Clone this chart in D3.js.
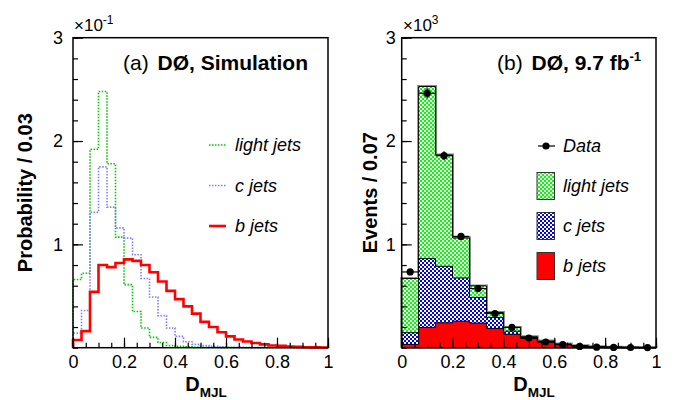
<!DOCTYPE html>
<html><head><meta charset="utf-8">
<script src="https://cdn.jsdelivr.net/npm/d3@7"></script>
<style>body{margin:0;background:#fff}svg{display:block;font-family:"Liberation Sans",Arial,Helvetica,sans-serif}</style>
</head><body><svg id="c" width="675" height="400"></svg>
<script>
// ---- Left panel: normalized distributions (units of 10^-1), 30 bins on [0,1]
const leftBins = 30;
const lightProb = [0.66,0.72,1.92,2.48,1.78,1.07,0.61,0.35,0.19,0.10,0.05,0.022,0.013,0.008,0.005,0.003,0.002,0.001,0.001,0,0,0,0,0,0,0,0,0,0,0];
const cProb = [0.14,0.36,1.31,1.75,1.36,1.16,1.06,0.90,0.67,0.49,0.31,0.19,0.11,0.058,0.032,0.02,0.013,0.008,0.005,0.003,0.002,0.001,0,0,0,0,0,0,0,0];
const bProb = [0.074,0.16,0.54,0.80,0.78,0.82,0.855,0.84,0.80,0.73,0.64,0.55,0.47,0.40,0.33,0.25,0.20,0.15,0.11,0.08,0.06,0.045,0.032,0.022,0.018,0.012,0.008,0.005,0.003,0.002];
// ---- Right panel: events per bin, 15 bins on [0,1]
const rightBins = 15;
const bEvents = [32,196,241,257,238,187,130,90,55,30,16,8,4,3,2];
const cEvents = [113,666,547,418,248,106,30,8,5,3,2,1,1,0,0];
const lightEvents = [524,1665,1077,386,112,47,36,8,4,2,1,1,0,0,0];
const dataEvents = [733,2463,1858,1077,572,331,196,93,55,29,12,5,3,2,1];
// ---- tick labels
const xTickLabels = ["0","0.2","0.4","0.6","0.8","1"];
const yTickLabelsL = ["1","2","3"];
const yTickLabelsR = ["1","2","3"];

const svg = d3.select("#c");
const defs = svg.append("defs");
function checker(id, color){
  const p = defs.append("pattern").attr("id",id).attr("width",4).attr("height",4).attr("patternUnits","userSpaceOnUse");
  p.append("rect").attr("width",4).attr("height",4).attr("fill","#fff");
  p.append("rect").attr("width",2).attr("height",2).attr("fill",color);
  p.append("rect").attr("x",2).attr("y",2).attr("width",2).attr("height",2).attr("fill",color);
}
checker("pg","#00ff00");
checker("pb","#0000ff");

const yTop = 37.7, yBot = 347.7;

function stepPoints(vals, nb, xs, ys){
  const w = 1/nb, pts = [[xs(0), ys(0)]];
  vals.forEach((v,i)=>{ pts.push([xs(i*w), ys(v)]); pts.push([xs((i+1)*w), ys(v)]); });
  pts.push([xs(1), ys(0)]);
  return pts;
}
const line = d3.line();

function axes(g, xs, ys, yMax, yLabels, yPad){
  // x ticks
  const xMinor = d3.range(0,1.0001,0.05);
  g.append("g").attr("transform",`translate(0,${yBot})`)
    .call(d3.axisBottom(xs).tickValues(xMinor).tickSize(-5).tickFormat(""))
    .call(a=>a.select(".domain").remove());
  g.append("g").attr("transform",`translate(0,${yBot})`)
    .call(d3.axisBottom(xs).tickValues(xTickLabels.map(Number)).tickSize(-10).tickPadding(8).tickFormat((d,i)=>xTickLabels[i]))
    .call(a=>a.select(".domain").remove())
    .call(a=>a.selectAll("text").attr("font-size",18).attr("fill","#000").attr("font-family","Liberation Sans, Arial, sans-serif"));
  // y ticks
  const yMinor = d3.range(0, yMax*1.0001, yMax/15);
  g.append("g").attr("transform",`translate(${xs(0)},0)`)
    .call(d3.axisLeft(ys).tickValues(yMinor).tickSize(-5).tickFormat(""))
    .call(a=>a.select(".domain").remove());
  g.append("g").attr("transform",`translate(${xs(0)},0)`)
    .call(d3.axisLeft(ys).tickValues(yLabels.map(d=>+d*yMax/3)).tickSize(-10).tickPadding(yPad).tickFormat((d,i)=>yLabels[i]))
    .call(a=>a.select(".domain").remove())
    .call(a=>a.selectAll("text").attr("font-size",18).attr("fill","#000").attr("font-family","Liberation Sans, Arial, sans-serif"));
  g.selectAll(".tick line").attr("stroke","#000").attr("stroke-width",1.2);
  // frame
  g.append("rect").attr("x",xs(0)).attr("y",yTop).attr("width",xs(1)-xs(0)).attr("height",yBot-yTop)
    .attr("fill","none").attr("stroke","#000").attr("stroke-width",1.5);
}

function xTitle(g, cx){
  const t = g.append("text").attr("x",cx).attr("y",391).attr("font-weight","bold").attr("font-size",20).attr("text-anchor","middle");
  t.append("tspan").text("D");
  t.append("tspan").attr("font-size",13.5).attr("dy",6).text("MJL");
}

// ================= LEFT =================
const xL = d3.scaleLinear([0,1],[73,328]);
const yL = d3.scaleLinear([0,3],[yBot,yTop]);
const gL = svg.append("g");
const leftSeries = [
  {vals:lightProb, color:"#00c800", dash:"1.5,1.5", w:1.6, name:"light jets"},
  {vals:cProb, color:"#7f7fff", dash:"1.5,1.5", w:1.6, name:"c jets"},
  {vals:bProb, color:"#ff0000", dash:null, w:2.6, name:"b jets"}
];
leftSeries.forEach(s=>{
  gL.append("path").attr("d", line(stepPoints(s.vals,leftBins,xL,yL))).attr("fill","none")
    .attr("stroke",s.color).attr("stroke-width",s.w).attr("stroke-dasharray",s.dash);
});
axes(gL, xL, yL, 3, yTickLabelsL, 10);
// legend
leftSeries.forEach((s,i)=>{
  const y = 145 + i*40.5;
  gL.append("line").attr("x1",209).attr("x2",226).attr("y1",y).attr("y2",y).attr("stroke",s.color)
    .attr("stroke-width",s.w).attr("stroke-dasharray",s.dash);
  gL.append("text").attr("x",235).attr("y",y).attr("dy","0.35em").attr("font-style","italic").attr("font-size",18).text(s.name);
});
// title
{
  const t = gL.append("text").attr("x",123).attr("y",70).attr("font-size",21);
  t.append("tspan").text("(a) ");
  t.append("tspan").attr("font-weight","bold").attr("dx",3).text("DØ, Simulation");
}
{
  const t = gL.append("text").attr("x",74).attr("y",31).attr("font-size",17);
  t.append("tspan").text("×10");
  t.append("tspan").attr("font-size",12).attr("dy",-7).text("-1");
}
gL.append("text").attr("transform",`translate(32,${(yTop+yBot)/2}) rotate(-90)`).attr("text-anchor","middle")
  .attr("font-weight","bold").attr("font-size",20).text("Probability / 0.03");
xTitle(gL, 206);

// ================= RIGHT =================
const xR = d3.scaleLinear([0,1],[401.7,656]);
const yR = d3.scaleLinear([0,3000],[yBot,yTop]);
const gR = svg.append("g");
const stackData = d3.range(rightBins).map(i=>({b:bEvents[i], c:cEvents[i], light:lightEvents[i]}));
const stacked = d3.stack().keys(["b","c","light"])(stackData);
const fills = {b:"#ff0000", c:"url(#pb)", light:"url(#pg)"};
const bw = 1/rightBins;
// total outline shadow
const totals = stacked[2].map(d=>d[1]);
gR.append("path").attr("d", line(stepPoints(totals,rightBins,xR,yR))).attr("fill","none")
  .attr("stroke","#888").attr("stroke-width",3);
stacked.slice().reverse().forEach(layer=>{
  const tops = layer.map(d=>d[1]);
  gR.append("path").attr("d", line(stepPoints(tops,rightBins,xR,yR))+"Z").attr("fill",fills[layer.key])
    .attr("stroke","#000").attr("stroke-width",1);
});
// data
dataEvents.forEach((v,i)=>{
  const cx = xR((i+0.5)*bw), cy = yR(v), e = Math.sqrt(v);
  gR.append("line").attr("x1",xR(i*bw)).attr("x2",xR((i+1)*bw)).attr("y1",cy).attr("y2",cy).attr("stroke","#000").attr("stroke-width",1.2);
  gR.append("line").attr("x1",cx).attr("x2",cx).attr("y1",yR(v+e)).attr("y2",yR(Math.max(0,v-e))).attr("stroke","#000").attr("stroke-width",1.2);
  gR.append("circle").attr("cx",cx).attr("cy",cy).attr("r",3.6).attr("fill","#000");
});
axes(gR, xR, yR, 3000, yTickLabelsR, 6);
// legend
gR.append("line").attr("x1",538).attr("x2",555).attr("y1",146).attr("y2",146).attr("stroke","#000").attr("stroke-width",1.2);
gR.append("circle").attr("cx",546).attr("cy",146).attr("r",3.6).attr("fill","#000");
gR.append("text").attr("x",563).attr("y",146).attr("dy","0.35em").attr("font-style","italic").attr("font-size",18).text("Data");
[["light","light jets"],["c","c jets"],["b","b jets"]].forEach(([k,name],i)=>{
  const y = 186 + i*40;
  gR.append("rect").attr("x",537).attr("y",y-13.5).attr("width",17.5).attr("height",27).attr("fill",fills[k]).attr("stroke","#333").attr("stroke-width",1);
  gR.append("text").attr("x",563).attr("y",y).attr("dy","0.35em").attr("font-style","italic").attr("font-size",18).text(name);
});
{
  const t = gR.append("text").attr("x",497).attr("y",70).attr("font-size",21);
  t.append("tspan").text("(b) ");
  const b = t.append("tspan").attr("font-weight","bold").attr("dx",3);
  b.append("tspan").text("DØ, 9.7 fb");
  b.append("tspan").attr("font-size",13).attr("dy",-9).text("-1");
}
{
  const t = gR.append("text").attr("x",403).attr("y",31).attr("font-size",17);
  t.append("tspan").text("×10");
  t.append("tspan").attr("font-size",12).attr("dy",-7).text("3");
}
gR.append("text").attr("transform",`translate(377,${(yTop+yBot)/2}) rotate(-90)`).attr("text-anchor","middle")
  .attr("font-weight","bold").attr("font-size",20).text("Events / 0.07");
xTitle(gR, 534);
</script></body></html>
